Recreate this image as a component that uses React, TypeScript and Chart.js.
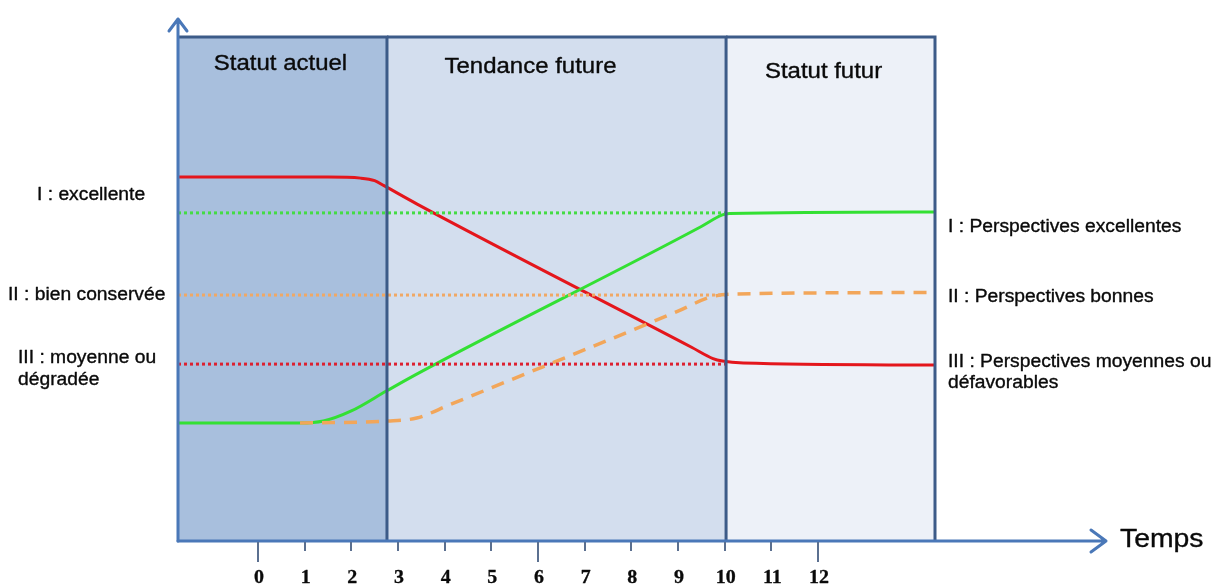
import React, { useEffect, useRef } from "react";
import { Chart, registerables } from "chart.js";

Chart.register(...registerables);

// ---- data ----
const X_MIN = -1.714;
const X_MAX = 18.214;
const Y_MIN = 0;
const Y_MAX = 10;

const tickValues = [0, 1, 2, 3, 4, 5, 6, 7, 8, 9, 10, 11, 12];
const tickLabels = ["0", "1", "2", "3", "4", "5", "6", "7", "8", "9", "10", "11", "12"];
const longTicks = [0, 6, 12];

const zoneStarts = [-1.714, 2.764, 10.03];
const zoneEnds = [2.764, 10.03, 14.507];
const zoneLabels = ["Statut actuel", "Tendance future", "Statut futur"];
const zoneColors = ["#a8bfdd", "#d3deee", "#edf1f8"];

const levelValues = [6.51, 4.88, 3.51];
const levelEnd = 10.03;
const levelColors = ["#44dc44", "#f0a865", "#dd2030"];
const leftLabels = [["I : excellente"], ["II : bien conservée"], ["III : moyenne ou", "dégradée"]];
const rightLabels = [["I : Perspectives excellentes"], ["II : Perspectives bonnes"], ["III : Perspectives moyennes ou", "défavorables"]];

const redX = [-1.714, 1.5, 2.2, 2.5, 2.7, 3.4, 9.3, 9.75, 9.95, 10.4, 14.507];
const redY = [7.22, 7.22, 7.2, 7.15, 7.05, 6.69, 3.84, 3.62, 3.57, 3.53, 3.49];

const greenX = [-1.714, 0.9, 1.4, 2.0, 2.76, 3.5, 9.5, 9.95, 10.1, 14.507];
const greenY = [2.34, 2.34, 2.38, 2.58, 2.98, 3.36, 6.24, 6.47, 6.5, 6.53];

const orangeX = [0.9, 2.76, 3.4, 4.1, 5.0, 9.0, 9.7, 10.2, 14.507];
const orangeY = [2.34, 2.38, 2.44, 2.7, 3.04, 4.56, 4.84, 4.9, 4.93];

const toPts = (xs: number[], ys: number[]) => xs.map((x, i) => ({ x, y: ys[i] }));

function drawStretched(
  ctx: CanvasRenderingContext2D,
  text: string,
  x: number,
  y: number,
  font: string,
  align: CanvasTextAlign,
  sx = 1.1,
  stroke = 0.35
) {
  ctx.save();
  ctx.translate(x, y);
  ctx.scale(sx, 1);
  ctx.font = font;
  ctx.textAlign = align;
  ctx.textBaseline = "middle";
  ctx.fillStyle = "#0a0a0a";
  ctx.fillText(text, 0, 0);
  if (stroke > 0) {
    ctx.strokeStyle = "#0a0a0a";
    ctx.lineWidth = stroke;
    ctx.strokeText(text, 0, 0);
  }
  ctx.restore();
}

const diagramPlugin = {
  id: "diagram",
  beforeDatasetsDraw(chart: any) {
    const ctx = chart.ctx as CanvasRenderingContext2D;
    const xs = chart.scales.x;
    const ys = chart.scales.y;
    const top = ys.getPixelForValue(Y_MAX);
    const bottom = ys.getPixelForValue(Y_MIN);
    ctx.save();
    zoneStarts.forEach((s, i) => {
      const x0 = xs.getPixelForValue(s);
      const x1 = xs.getPixelForValue(zoneEnds[i]);
      ctx.fillStyle = zoneColors[i];
      ctx.fillRect(x0, top, x1 - x0, bottom - top);
    });
    ctx.restore();
  },
  afterDatasetsDraw(chart: any) {
    const ctx = chart.ctx as CanvasRenderingContext2D;
    const xs = chart.scales.x;
    const ys = chart.scales.y;
    const top = ys.getPixelForValue(Y_MAX);
    const bottom = ys.getPixelForValue(Y_MIN);
    const left = xs.getPixelForValue(X_MIN);
    const right = xs.getPixelForValue(X_MAX);
    ctx.save();
    // zone borders
    ctx.strokeStyle = "#3c5b88";
    ctx.lineWidth = 3;
    zoneStarts.forEach((s, i) => {
      const x0 = xs.getPixelForValue(s);
      const x1 = xs.getPixelForValue(zoneEnds[i]);
      ctx.beginPath();
      ctx.moveTo(x0, top);
      ctx.lineTo(x1, top);
      ctx.lineTo(x1, bottom);
      ctx.stroke();
    });
    // axes
    ctx.strokeStyle = "#4a78b8";
    ctx.lineWidth = 3;
    ctx.lineCap = "round";
    ctx.lineJoin = "round";
    ctx.beginPath();
    ctx.moveTo(left, bottom);
    ctx.lineTo(left, 19);
    ctx.moveTo(left - 9, 31);
    ctx.lineTo(left, 19);
    ctx.lineTo(left + 9, 31);
    ctx.stroke();
    ctx.beginPath();
    ctx.moveTo(left, bottom);
    ctx.lineTo(right - 2, bottom);
    ctx.moveTo(right - 17, bottom - 11);
    ctx.lineTo(right - 2, bottom);
    ctx.lineTo(right - 17, bottom + 11);
    ctx.stroke();
    // ticks
    ctx.strokeStyle = "#5b7090";
    ctx.lineWidth = 2;
    ctx.lineCap = "butt";
    tickValues.forEach((v) => {
      const px = Math.round(xs.getPixelForValue(v));
      ctx.beginPath();
      ctx.moveTo(px, bottom + 1);
      ctx.lineTo(px, bottom + (longTicks.includes(v) ? 21 : 10));
      ctx.stroke();
    });
    tickValues.forEach((v, i) => {
      const px = xs.getPixelForValue(v);
      drawStretched(ctx, tickLabels[i], px + 1, 578, "bold 19px 'Liberation Serif', serif", "center", 1.05, 0.3);
    });
    // zone titles
    const titleY = [64, 67, 72];
    zoneStarts.forEach((s, i) => {
      const cx = (xs.getPixelForValue(s) + xs.getPixelForValue(zoneEnds[i])) / 2;
      drawStretched(ctx, zoneLabels[i], cx + (i === 0 ? -2 : i === 1 ? -26 : -7), titleY[i], "22px 'Liberation Sans', Arial, sans-serif", "center", 1.09);
    });
    // level labels
    const f = "18px 'Liberation Sans', Arial, sans-serif";
    const leftX = [37, 8, 18];
    const leftY = [[195], [295], [358, 380]];
    leftLabels.forEach((lines, i) => {
      lines.forEach((t, j) => drawStretched(ctx, t, leftX[i], leftY[i][j], f, "left", 1.07));
    });
    const rightY = [[227], [297], [362, 383]];
    rightLabels.forEach((lines, i) => {
      lines.forEach((t, j) => drawStretched(ctx, t, 948, rightY[i][j], f, "left", 1.07));
    });
    drawStretched(ctx, "Temps", 1120, 540, "26px 'Liberation Sans', Arial, sans-serif", "left", 1.09);
    ctx.restore();
  },
};

export default function App() {
  const ref = useRef<HTMLCanvasElement>(null);
  useEffect(() => {
    if (!ref.current) return;
    const refSets = levelValues.map((v, i) => ({
      label: "niveau " + (i + 1),
      data: [
        { x: X_MIN, y: v },
        { x: levelEnd, y: v },
      ],
      borderColor: levelColors[i],
      borderWidth: 3,
      borderDash: [3, 3],
      pointRadius: 0,
      tension: 0,
    }));
    const chart = new Chart(ref.current, {
      type: "line",
      data: {
        datasets: [
          ...refSets,
          {
            label: "orange",
            data: toPts(orangeX, orangeY),
            borderColor: "#f2a65a",
            borderWidth: 3.5,
            borderDash: [13, 9],
            pointRadius: 0,
            cubicInterpolationMode: "monotone",
          },
          {
            label: "vert",
            data: toPts(greenX, greenY),
            borderColor: "#33e033",
            borderWidth: 3,
            pointRadius: 0,
            cubicInterpolationMode: "monotone",
          },
          {
            label: "rouge",
            data: toPts(redX, redY),
            borderColor: "#e4161c",
            borderWidth: 3,
            pointRadius: 0,
            cubicInterpolationMode: "monotone",
          },
        ] as any,
      },
      options: {
        responsive: false,
        animation: false,
        layout: { padding: { left: 178, top: 37, right: 103, bottom: 46 } },
        scales: {
          x: { type: "linear", min: X_MIN, max: X_MAX, display: false },
          y: { type: "linear", min: Y_MIN, max: Y_MAX, display: false },
        },
        plugins: { legend: { display: false }, tooltip: { enabled: false } },
      },
      plugins: [diagramPlugin],
    });
    return () => chart.destroy();
  }, []);
  return (
    <div style={{ position: "fixed", left: 0, top: 0, width: 1211, height: 587, background: "#fff" }}>
      <canvas ref={ref} width={1211} height={587} style={{ display: "block" }} />
    </div>
  );
}
